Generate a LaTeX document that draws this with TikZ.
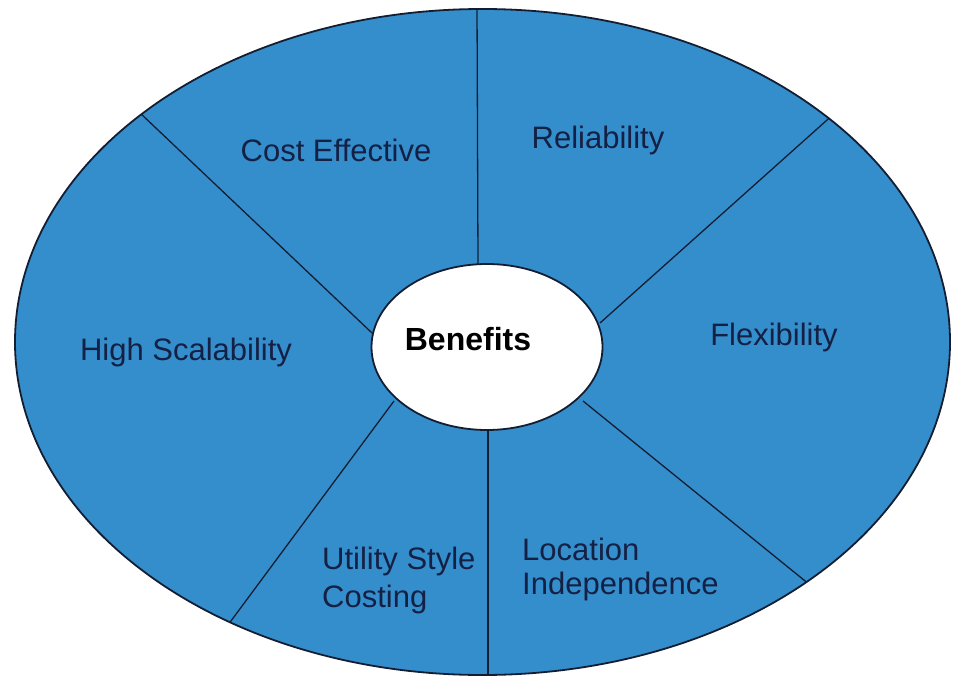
\documentclass[tikz,border=0pt]{standalone}
\usepackage{fontspec}
\setmainfont{Liberation Sans}
\usetikzlibrary{shapes.geometric}
\definecolor{wheelblue}{RGB}{52,142,204}
\definecolor{labelink}{RGB}{20,32,68}
\definecolor{rimink}{RGB}{20,30,50}
\begin{document}
\begin{tikzpicture}[x=1pt,y=-1pt,
  rim/.style={draw=rimink,line width=1.8pt},
  spoke/.style={draw=rimink,line width=1.3pt},
  lbl/.style={text=labelink,font=\fontsize{31}{36}\selectfont,inner sep=0pt}]
\useasboundingbox (0,0) rectangle (953,679);
\fill[white] (0,0) rectangle (953,679);
\node[ellipse,rim,fill=wheelblue,minimum width=935pt,minimum height=666pt,inner sep=0pt] (wheel) at (482.5,342) {};
\coordinate (t1) at (477,5);   \coordinate (t2) at (478,264);
\coordinate (b1) at (488,430); \coordinate (b2) at (488,679);
\coordinate (ul1) at (139,112); \coordinate (ul2) at (372,333);
\coordinate (ur1) at (836,112); \coordinate (ur2) at (600,323);
\coordinate (lr1) at (583,401); \coordinate (lr2) at (815,589);
\coordinate (ll1) at (394,401); \coordinate (ll2) at (225,629);
\begin{scope}
\clip (482.5,342) ellipse [x radius=467.5pt,y radius=333pt];
\draw[spoke] (t1) -- (t2);
\draw[spoke] (b1) -- (b2);
\draw[spoke] (ul1) -- (ul2);
\draw[spoke] (ur1) -- (ur2);
\draw[spoke] (lr1) -- (lr2);
\draw[spoke] (ll1) -- (ll2);
\end{scope}
\node[ellipse,rim,fill=white,minimum width=231pt,minimum height=166pt,inner sep=0pt] (hub) at (487,347) {};
\node[font=\fontsize{32}{36}\selectfont\bfseries,inner sep=0pt] (benefits) at (468,339) {Benefits};
\node[lbl] (cost) at (336,150) {Cost Effective};
\node[lbl] (rel) at (598,140) {Reliability};
\node[lbl] (high) at (186,352) {High Scalability};
\node[lbl] (flex) at (774,337) {Flexibility};
\node[lbl,anchor=west] (util1) at (322,561) {Utility Style};
\node[lbl,anchor=west] (util2) at (322,599) {Costing};
\node[lbl,anchor=west] (loc1) at (522,549) {Location};
\node[lbl,anchor=west] (loc2) at (522,586) {Independence};
\end{tikzpicture}
\end{document}
